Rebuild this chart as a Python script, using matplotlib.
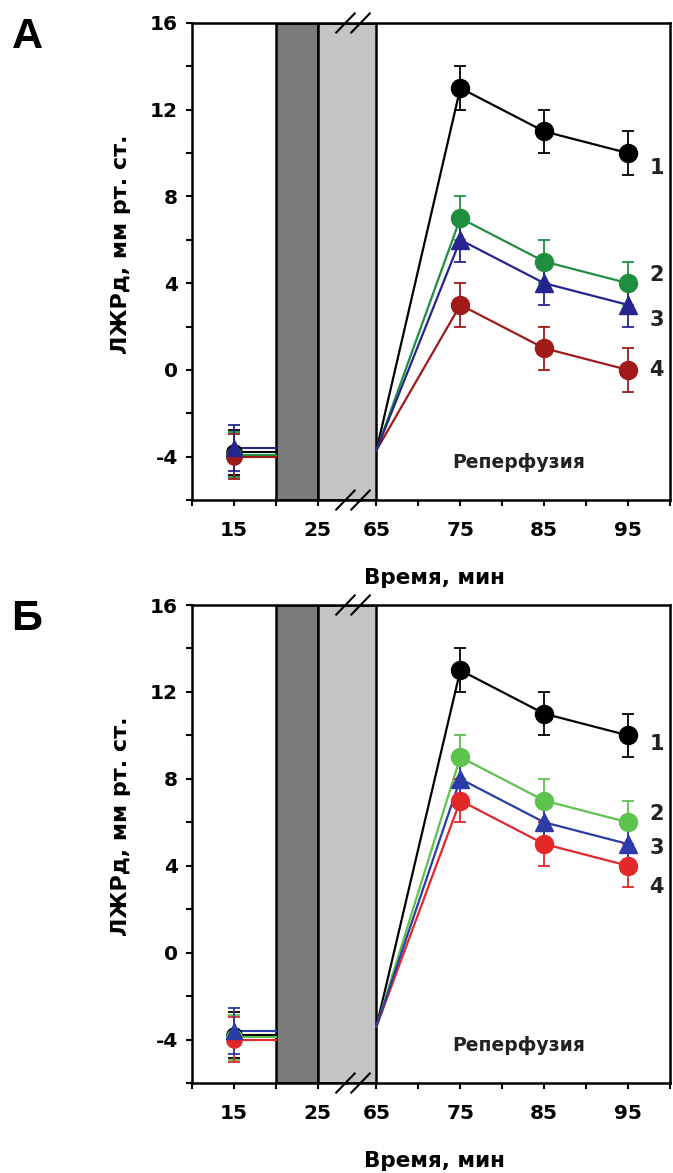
import numpy as np
import matplotlib
matplotlib.use('Agg')
import matplotlib.pyplot as plt
import matplotlib.transforms as mtransforms

plt.rcParams['font.family'] = ['DejaVu Sans']
plt.rcParams['font.weight'] = 'bold'
plt.rcParams['axes.unicode_minus'] = False

# time points (min)
t_base = [15, 20]          # baseline, line runs to start of ischemia
t_rep_start = 65
t_rep = [75, 85, 95]
ischemia_dark = (20, 25)
ischemia_light = (25, 65)

tick_major = [15, 25, 65, 75, 85, 95]
tick_minor = [10, 20, 70, 80, 90, 100]

# panel A
base_a = [-3.8, -3.9, -3.6, -4.0]
start_a = [-3.7, -3.7, -3.7, -3.7]
rep_a = [[13, 11, 10], [7, 5, 4], [6, 4, 3], [3, 1, 0]]
err_a = [[1, 1, 1], [1, 1, 1], [1, 1, 1], [1, 1, 1]]
lab_y_a = [9.3, 4.4, 2.3, 0.0]
colors_a = ['black', '#1f8f3f', '#25258f', '#a01a1a']

# panel B
base_b = [-3.8, -3.9, -3.6, -4.0]
start_b = [-3.4, -3.4, -3.4, -3.4]
rep_b = [[13, 11, 10], [9, 7, 6], [8, 6, 5], [7, 5, 4]]
err_b = [[1, 1, 1], [1, 1, 1], [1, 1, 1], [1, 1, 1]]
lab_y_b = [9.6, 6.4, 4.8, 3.0]
colors_b = ['black', '#5ec24f', '#2b3ca8', '#e3282a']

base_err = 1.05
labels = ['1', '2', '3', '4']
markers = ['o', 'o', '^', 'o']


def pos(x):
    # broken axis: 25..65 squeezed
    x = np.asarray(x, dtype=float)
    return np.where(x <= 25, x, x - 33)


def draw_panel(ax, base, start, rep, err, lab_y, colors, letter):
    ax.axvspan(pos(ischemia_dark[0]), pos(ischemia_dark[1]), facecolor='#7b7b7b',
               edgecolor='black', lw=1.8, zorder=1)
    ax.axvspan(pos(ischemia_light[0]), pos(ischemia_light[1]), facecolor='#c4c4c4',
               edgecolor='black', lw=1.8, zorder=1)

    order = [0, 1, 3, 2]
    for i in order:
        c = colors[i]
        ax.plot(pos(t_base), [base[i]] * 2, color=c, lw=1.5, zorder=3)
        ax.errorbar(pos([15]), [base[i]], yerr=base_err, fmt=markers[i], color=c,
                    ms=11, capsize=4, elinewidth=1.3, capthick=1.3, zorder=4)
        xs = pos([t_rep_start] + t_rep)
        ys = [start[i]] + rep[i]
        ax.plot(xs, ys, color=c, lw=1.6, zorder=3)
        ax.errorbar(pos(t_rep), rep[i], yerr=err[i], fmt=markers[i], color=c,
                    ms=13, capsize=4.5, elinewidth=1.3, capthick=1.3, zorder=4)
        ax.text(pos(100) - 1.6, lab_y[i], labels[i], fontsize=15, fontweight='bold',
                ha='center', va='center', color='#222222')

    ax.text(pos(82), -4.27, 'Реперфузия', fontsize=13.5, fontweight='bold',
            ha='center', va='center', color='#222222')

    ax.set_xlim(pos(10), pos(100))
    ax.set_ylim(-6, 16)
    ax.set_xticks(pos(tick_major))
    ax.set_xticklabels([str(t) for t in tick_major])
    ax.set_xticks(pos(tick_minor), minor=True)
    ax.set_yticks([-4, 0, 4, 8, 12, 16])
    ax.set_yticks(np.arange(-6, 17, 2), minor=True)
    ax.tick_params(which='both', direction='out', width=1.5, length=4,
                   labelsize=14.5, pad=6)
    ax.tick_params(axis='x', which='both', pad=11)
    for lbl in ax.get_xticklabels() + ax.get_yticklabels():
        lbl.set_fontweight('bold')
    for s in ax.spines.values():
        s.set_linewidth(1.8)

    ax.set_xlabel('Время, мин', fontsize=15.5, fontweight='bold')
    ax.xaxis.set_label_coords(0.508, -0.143)
    ax.set_ylabel('ЛЖРд, мм рт. ст.', fontsize=16, fontweight='bold')
    ax.yaxis.set_label_coords(-0.128, 0.537)

    # axis break marks
    tr = mtransforms.blended_transform_factory(ax.transData, ax.transAxes)
    xb = pos(25) + 0.6 * (pos(65) - pos(25))
    for yy in (0.0, 1.0):
        for dx in (-0.9, 0.9):
            xc = xb + dx
            ax.plot([xc - 1.1, xc + 1.1], [yy - 0.02, yy + 0.02], color='black',
                    lw=1.5, transform=tr, clip_on=False, zorder=6)

    bb = ax.get_position()
    ax.figure.text(27 / 673, bb.y1 + 0.012 - 14 / 1173 * 2, letter, fontsize=31,
                   fontweight='bold', ha='center', va='center',
                   family=['Liberation Sans', 'DejaVu Sans'])


fig = plt.figure(figsize=(6.73, 11.73), dpi=100)
ax_a = fig.add_axes([0.2853, 0.5737, 0.7102, 0.4067])
ax_b = fig.add_axes([0.2853, 0.0767, 0.7102, 0.4075])

draw_panel(ax_a, base_a, start_a, rep_a, err_a, lab_y_a, colors_a, 'А')
draw_panel(ax_b, base_b, start_b, rep_b, err_b, lab_y_b, colors_b, 'Б')

fig.savefig('out.png', dpi=100)
